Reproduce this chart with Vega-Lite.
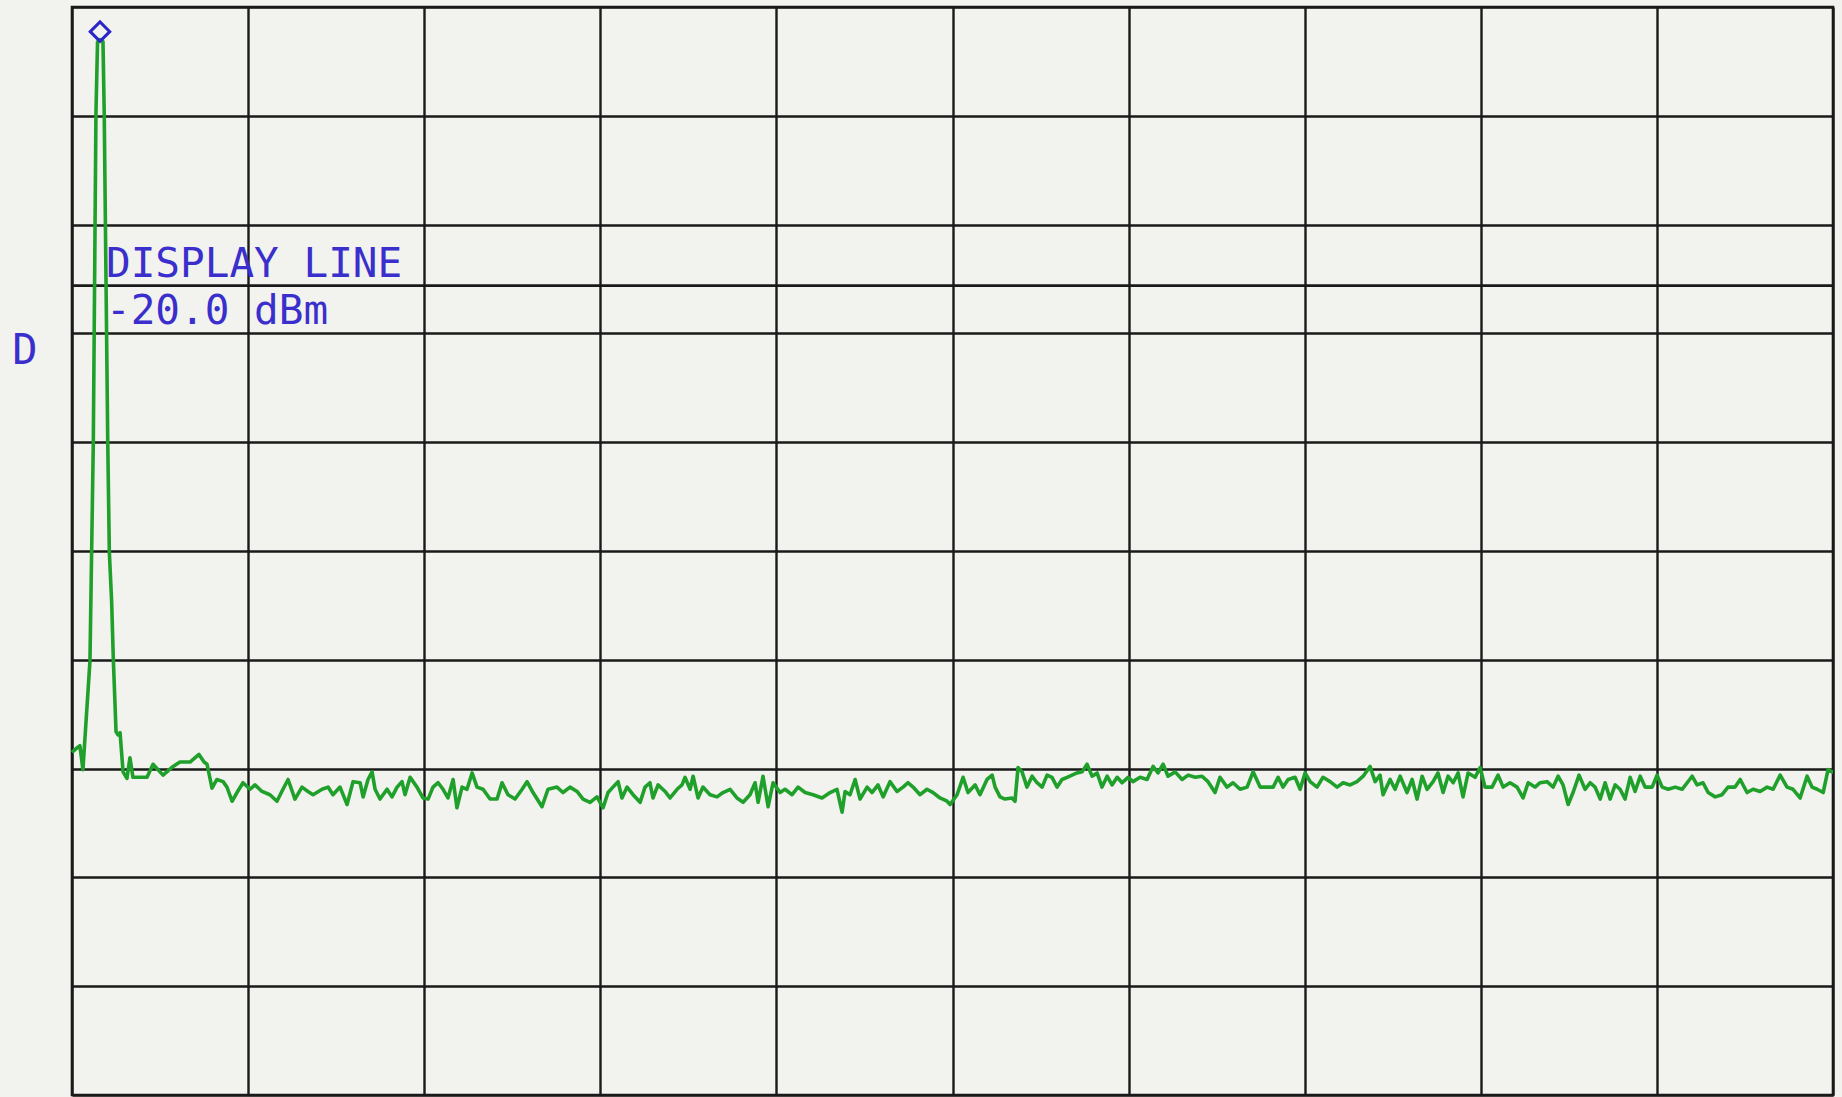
{
  "$schema": "https://vega.github.io/schema/vega-lite/v6.json",
  "width": 1761,
  "height": 1088,
  "autosize": {"type": "none"},
  "padding": {"left": 72, "top": 7, "right": 9, "bottom": 2},
  "background": "#f2f2ee",
  "config": {
    "view": {"stroke": "#1a1a1a", "strokeWidth": 2.6, "fill": "#f2f2ee"},
    "axis": {"labels": false, "ticks": false, "domain": false, "title": null, "grid": true, "gridColor": "#1a1a1a", "gridWidth": 2.4, "gridOpacity": 1}
  },
  "datasets": {
    "trace": [
      {"point":0,"dBm":-62.9},{"point":2.8,"dBm":-62.5},{"point":4.5,"dBm":-62.3},{"point":6.2,"dBm":-64.5},{"point":10.2,"dBm":-54.5},{"point":12.1,"dBm":-34.4},{"point":13.6,"dBm":-4.2},{"point":14.5,"dBm":2.4},{"point":15.9,"dBm":2.6},{"point":17.6,"dBm":2.4},{"point":18.3,"dBm":-4.2},{"point":20.3,"dBm":-34.4},{"point":21.2,"dBm":-44.5},{"point":22.5,"dBm":-49.0},{"point":23.5,"dBm":-54.5},{"point":25.0,"dBm":-61.0},{"point":26.1,"dBm":-61.3},{"point":27.3,"dBm":-61.1},{"point":29.0,"dBm":-64.7},{"point":31.2,"dBm":-65.3},{"point":32.9,"dBm":-63.4},{"point":34.6,"dBm":-65.2},{"point":38.6,"dBm":-65.2},{"point":42.6,"dBm":-65.2},{"point":46.0,"dBm":-64.0},{"point":51.7,"dBm":-65.0},{"point":57.4,"dBm":-64.2},{"point":61.3,"dBm":-63.8},{"point":67.0,"dBm":-63.8},{"point":72.1,"dBm":-63.1},{"point":75.0,"dBm":-63.8},{"point":76.7,"dBm":-64.0},{"point":79.5,"dBm":-66.2},
      {"point":82.3,"dBm":-65.4},{"point":85.8,"dBm":-65.6},{"point":88.0,"dBm":-66.1},{"point":90.9,"dBm":-67.4},{"point":93.7,"dBm":-66.6},{"point":97.1,"dBm":-65.7},{"point":101.1,"dBm":-66.3},{"point":103.9,"dBm":-65.9},{"point":107.9,"dBm":-66.5},{"point":112.4,"dBm":-66.8},{"point":116.4,"dBm":-67.4},{"point":119.8,"dBm":-66.3},{"point":122.7,"dBm":-65.4},{"point":126.6,"dBm":-67.2},{"point":130.6,"dBm":-66.1},{"point":134.0,"dBm":-66.5},{"point":136.9,"dBm":-66.8},{"point":142.0,"dBm":-66.3},{"point":145.4,"dBm":-66.1},{"point":148.2,"dBm":-66.8},{"point":152.2,"dBm":-66.1},{"point":156.2,"dBm":-67.7},{"point":159.6,"dBm":-65.6},{"point":163.6,"dBm":-65.7},{"point":165.3,"dBm":-67.0},{"point":168.1,"dBm":-65.4},{"point":170.4,"dBm":-64.7},{"point":172.1,"dBm":-66.3},{"point":174.9,"dBm":-67.2},{"point":178.9,"dBm":-66.3},{"point":181.7,"dBm":-67.0},{"point":184.6,"dBm":-66.1},{"point":187.4,"dBm":-65.6},{"point":189.1,"dBm":-66.8},{"point":192.0,"dBm":-65.2},{"point":195.9,"dBm":-66.1},{"point":199.3,"dBm":-67.1},{"point":202.2,"dBm":-67.2},{"point":205.0,"dBm":-66.1},{"point":207.9,"dBm":-65.7},{"point":210.7,"dBm":-66.3},{"point":213.5,"dBm":-67.1},{"point":216.4,"dBm":-65.4},{"point":218.6,"dBm":-68.0},{"point":221.5,"dBm":-66.1},{"point":224.3,"dBm":-66.3},{"point":227.2,"dBm":-64.8},{"point":230.0,"dBm":-66.1},{"point":233.4,"dBm":-66.3},{"point":237.4,"dBm":-67.2},{"point":241.4,"dBm":-67.2},{"point":244.2,"dBm":-65.7},{"point":247.6,"dBm":-66.8},{"point":251.6,"dBm":-67.2},{"point":255.6,"dBm":-66.3},{"point":258.4,"dBm":-65.6},{"point":261.8,"dBm":-66.6},{"point":266.9,"dBm":-67.9},{"point":270.3,"dBm":-66.3},{"point":275.4,"dBm":-66.1},
      {"point":278.8,"dBm":-66.6},{"point":282.8,"dBm":-66.1},{"point":286.8,"dBm":-66.5},{"point":290.2,"dBm":-67.2},{"point":294.2,"dBm":-67.5},{"point":298.1,"dBm":-67.0},{"point":301.6,"dBm":-68.0},{"point":304.4,"dBm":-66.6},{"point":307.2,"dBm":-66.1},{"point":310.1,"dBm":-65.6},{"point":312.3,"dBm":-67.1},{"point":315.2,"dBm":-66.1},{"point":318.6,"dBm":-66.8},{"point":322.6,"dBm":-67.5},{"point":325.4,"dBm":-66.1},{"point":328.2,"dBm":-65.7},{"point":329.9,"dBm":-67.1},{"point":332.8,"dBm":-65.9},{"point":336.8,"dBm":-66.5},{"point":339.6,"dBm":-67.1},{"point":343.6,"dBm":-66.3},{"point":346.4,"dBm":-65.9},{"point":348.1,"dBm":-65.2},{"point":351.0,"dBm":-66.3},{"point":352.7,"dBm":-65.1},{"point":355.5,"dBm":-67.1},{"point":358.3,"dBm":-66.1},{"point":362.3,"dBm":-66.8},{"point":366.3,"dBm":-67.0},{"point":369.7,"dBm":-66.6},{"point":373.7,"dBm":-66.3},{"point":377.6,"dBm":-67.1},{"point":381.1,"dBm":-67.5},{"point":385.0,"dBm":-66.8},{"point":387.9,"dBm":-65.7},{"point":389.6,"dBm":-67.5},{"point":392.4,"dBm":-65.1},{"point":395.3,"dBm":-67.9},{"point":398.1,"dBm":-65.7},{"point":402.1,"dBm":-66.6},{"point":404.9,"dBm":-66.3},{"point":408.9,"dBm":-66.8},{"point":412.3,"dBm":-66.1},{"point":416.3,"dBm":-66.6},{"point":420.8,"dBm":-66.8},{"point":425.9,"dBm":-67.1},{"point":430.5,"dBm":-66.6},{"point":434.4,"dBm":-66.3},{"point":437.3,"dBm":-68.4},{"point":439.0,"dBm":-66.5},{"point":441.8,"dBm":-66.8},{"point":444.7,"dBm":-65.4},{"point":447.5,"dBm":-67.2},{"point":451.5,"dBm":-66.1},{"point":454.3,"dBm":-66.6},{"point":457.7,"dBm":-65.9},{"point":460.6,"dBm":-67.0},{"point":464.5,"dBm":-65.6},{"point":468.5,"dBm":-66.5},{"point":471.9,"dBm":-66.1},{"point":474.8,"dBm":-65.7},
      {"point":477.6,"dBm":-66.1},{"point":481.6,"dBm":-66.8},{"point":485.5,"dBm":-66.3},{"point":489.0,"dBm":-66.6},{"point":492.9,"dBm":-67.1},{"point":496.9,"dBm":-67.4},{"point":498.6,"dBm":-67.7},{"point":502.6,"dBm":-66.8},{"point":506.0,"dBm":-65.2},{"point":508.8,"dBm":-66.6},{"point":512.8,"dBm":-65.9},{"point":515.6,"dBm":-66.8},{"point":519.6,"dBm":-65.4},{"point":522.5,"dBm":-65.0},{"point":524.2,"dBm":-66.1},{"point":527.0,"dBm":-67.0},{"point":529.8,"dBm":-67.2},{"point":533.8,"dBm":-67.1},{"point":535.5,"dBm":-67.4},{"point":537.2,"dBm":-64.3},{"point":539.5,"dBm":-64.7},{"point":542.3,"dBm":-66.1},{"point":545.2,"dBm":-65.1},{"point":548.0,"dBm":-65.7},{"point":550.9,"dBm":-66.1},{"point":553.7,"dBm":-65.0},{"point":556.5,"dBm":-65.2},{"point":559.4,"dBm":-66.1},{"point":562.2,"dBm":-65.4},{"point":565.1,"dBm":-65.2},{"point":567.9,"dBm":-65.0},{"point":570.7,"dBm":-64.8},{"point":573.6,"dBm":-64.7},{"point":576.4,"dBm":-64.0},{"point":579.3,"dBm":-65.1},{"point":582.1,"dBm":-64.8},{"point":584.9,"dBm":-66.1},{"point":587.8,"dBm":-65.1},{"point":590.6,"dBm":-65.9},{"point":593.5,"dBm":-65.2},{"point":596.3,"dBm":-65.7},{"point":599.7,"dBm":-65.2},{"point":602.5,"dBm":-65.6},{"point":606.5,"dBm":-65.2},{"point":610.5,"dBm":-65.4},{"point":613.9,"dBm":-64.2},{"point":616.7,"dBm":-64.8},{"point":619.6,"dBm":-64.0},{"point":622.4,"dBm":-65.1},{"point":626.4,"dBm":-64.7},{"point":630.4,"dBm":-65.4},{"point":633.8,"dBm":-65.0},{"point":637.8,"dBm":-65.2},{"point":641.7,"dBm":-65.1},{"point":645.1,"dBm":-65.6},{"point":649.1,"dBm":-66.6},{"point":651.9,"dBm":-65.2},{"point":655.9,"dBm":-66.1},{"point":659.3,"dBm":-65.7},{"point":663.3,"dBm":-66.3},{"point":667.3,"dBm":-66.1},{"point":670.7,"dBm":-64.7},
      {"point":674.7,"dBm":-66.1},{"point":678.6,"dBm":-66.1},{"point":682.1,"dBm":-66.1},{"point":684.9,"dBm":-65.2},{"point":687.7,"dBm":-66.1},{"point":690.6,"dBm":-65.4},{"point":694.5,"dBm":-65.2},{"point":697.4,"dBm":-66.3},{"point":700.2,"dBm":-64.8},{"point":703.1,"dBm":-65.6},{"point":707.0,"dBm":-66.1},{"point":710.4,"dBm":-65.2},{"point":714.4,"dBm":-65.6},{"point":718.4,"dBm":-66.1},{"point":721.8,"dBm":-65.7},{"point":725.8,"dBm":-65.9},{"point":729.7,"dBm":-65.6},{"point":733.2,"dBm":-65.1},{"point":737.1,"dBm":-64.2},{"point":740.0,"dBm":-65.6},{"point":742.8,"dBm":-65.0},{"point":744.5,"dBm":-66.8},{"point":748.5,"dBm":-65.4},{"point":751.3,"dBm":-66.3},{"point":754.2,"dBm":-65.1},{"point":758.1,"dBm":-66.6},{"point":761.0,"dBm":-65.4},{"point":763.8,"dBm":-67.2},{"point":766.7,"dBm":-65.1},{"point":769.5,"dBm":-66.3},{"point":772.9,"dBm":-65.6},{"point":775.7,"dBm":-64.8},{"point":778.6,"dBm":-66.6},{"point":781.4,"dBm":-65.1},{"point":784.3,"dBm":-65.7},{"point":787.1,"dBm":-64.8},{"point":789.9,"dBm":-67.0},{"point":792.8,"dBm":-64.8},{"point":796.8,"dBm":-65.2},{"point":799.6,"dBm":-64.3},{"point":802.4,"dBm":-66.1},{"point":806.4,"dBm":-66.1},{"point":809.8,"dBm":-65.0},{"point":812.7,"dBm":-66.1},{"point":816.6,"dBm":-65.7},{"point":820.6,"dBm":-66.1},{"point":824.0,"dBm":-67.1},{"point":826.9,"dBm":-65.7},{"point":830.8,"dBm":-66.1},
      {"point":833.7,"dBm":-65.7},{"point":837.6,"dBm":-65.6},{"point":841.1,"dBm":-66.1},{"point":843.9,"dBm":-65.1},{"point":846.7,"dBm":-65.9},{"point":849.6,"dBm":-67.7},{"point":852.4,"dBm":-66.6},{"point":855.8,"dBm":-65.0},{"point":859.2,"dBm":-66.3},{"point":862.1,"dBm":-65.7},{"point":864.9,"dBm":-66.1},{"point":867.8,"dBm":-67.2},{"point":870.6,"dBm":-65.7},{"point":873.4,"dBm":-67.2},{"point":876.3,"dBm":-65.9},{"point":879.1,"dBm":-66.3},{"point":881.9,"dBm":-67.2},{"point":884.8,"dBm":-65.2},{"point":887.6,"dBm":-66.5},{"point":890.5,"dBm":-65.1},{"point":893.3,"dBm":-66.1},{"point":897.3,"dBm":-66.1},{"point":900.1,"dBm":-65.0},{"point":903.0,"dBm":-66.1},{"point":906.4,"dBm":-66.3},{"point":910.4,"dBm":-66.1},{"point":914.3,"dBm":-66.3},{"point":917.2,"dBm":-65.7},{"point":920.0,"dBm":-65.1},{"point":922.8,"dBm":-65.9},{"point":926.2,"dBm":-65.7},{"point":929.1,"dBm":-66.6},{"point":933.1,"dBm":-67.0},{"point":937.0,"dBm":-66.8},{"point":940.4,"dBm":-66.1},{"point":944.4,"dBm":-66.1},{"point":947.3,"dBm":-65.4},{"point":951.2,"dBm":-66.6},{"point":954.6,"dBm":-66.3},{"point":958.6,"dBm":-66.5},{"point":962.6,"dBm":-66.1},{"point":966.0,"dBm":-66.3},{"point":970.0,"dBm":-65.0},{"point":973.9,"dBm":-66.1},{"point":977.3,"dBm":-66.3},{"point":981.3,"dBm":-67.1},{"point":985.3,"dBm":-65.1},{"point":988.1,"dBm":-66.1},{"point":991.0,"dBm":-66.3},{"point":994.4,"dBm":-66.6},{"point":997.2,"dBm":-64.5},{"point":999.5,"dBm":-64.7},{"point":1000,"dBm":-64.7}
    ],
    "marker": [{"point": 15.9, "dBm": 2.6}],
    "displayLine": [{"dBm": -20, "line1": "DISPLAY LINE", "line2": "-20.0 dBm"}],
    "sideLabel": [{"point": -34, "dBm": -26, "label": "D"}]
  },
  "layer": [
    {
      "data": {"name": "displayLine"},
      "mark": {"type": "rule", "color": "#1a1a1a", "strokeWidth": 2.8},
      "encoding": {
        "y": {"field": "dBm", "type": "quantitative", "scale": {"domain": [-94.4, 5.6], "nice": false, "zero": false}, "axis": {"values": [5.6, -4.4, -14.4, -24.4, -34.4, -44.4, -54.4, -64.4, -74.4, -84.4, -94.4]}}
      }
    },
    {
      "data": {"name": "trace"},
      "mark": {"type": "line", "color": "#1fa02a", "strokeWidth": 3.6, "strokeJoin": "round"},
      "encoding": {
        "x": {"field": "point", "type": "quantitative", "scale": {"domain": [0, 1000], "nice": false, "zero": false}, "axis": {"values": [0, 100, 200, 300, 400, 500, 600, 700, 800, 900, 1000]}},
        "y": {"field": "dBm", "type": "quantitative"}
      }
    },
    {
      "data": {"name": "marker"},
      "mark": {"type": "point", "shape": "diamond", "filled": false, "size": 380, "opacity": 1, "stroke": "#2a26c8", "strokeWidth": 3, "yOffset": -8},
      "encoding": {
        "x": {"field": "point", "type": "quantitative"},
        "y": {"field": "dBm", "type": "quantitative"}
      }
    },
    {
      "data": {"name": "displayLine"},
      "mark": {"type": "text", "align": "left", "baseline": "alphabetic", "dy": -9, "font": "DejaVu Sans Mono", "fontSize": 41, "color": "#3a2fcc"},
      "encoding": {
        "x": {"datum": 19.3, "type": "quantitative"},
        "y": {"field": "dBm", "type": "quantitative"},
        "text": {"field": "line1"}
      }
    },
    {
      "data": {"name": "displayLine"},
      "mark": {"type": "text", "align": "left", "baseline": "alphabetic", "dy": 38, "font": "DejaVu Sans Mono", "fontSize": 41, "color": "#3a2fcc"},
      "encoding": {
        "x": {"datum": 19.3, "type": "quantitative"},
        "y": {"field": "dBm", "type": "quantitative"},
        "text": {"field": "line2"}
      }
    },
    {
      "data": {"name": "sideLabel"},
      "mark": {"type": "text", "align": "left", "baseline": "middle", "font": "DejaVu Sans Mono", "fontSize": 42, "color": "#3a2fcc"},
      "encoding": {
        "x": {"field": "point", "type": "quantitative"},
        "y": {"field": "dBm", "type": "quantitative"},
        "text": {"field": "label"}
      }
    }
  ]
}
